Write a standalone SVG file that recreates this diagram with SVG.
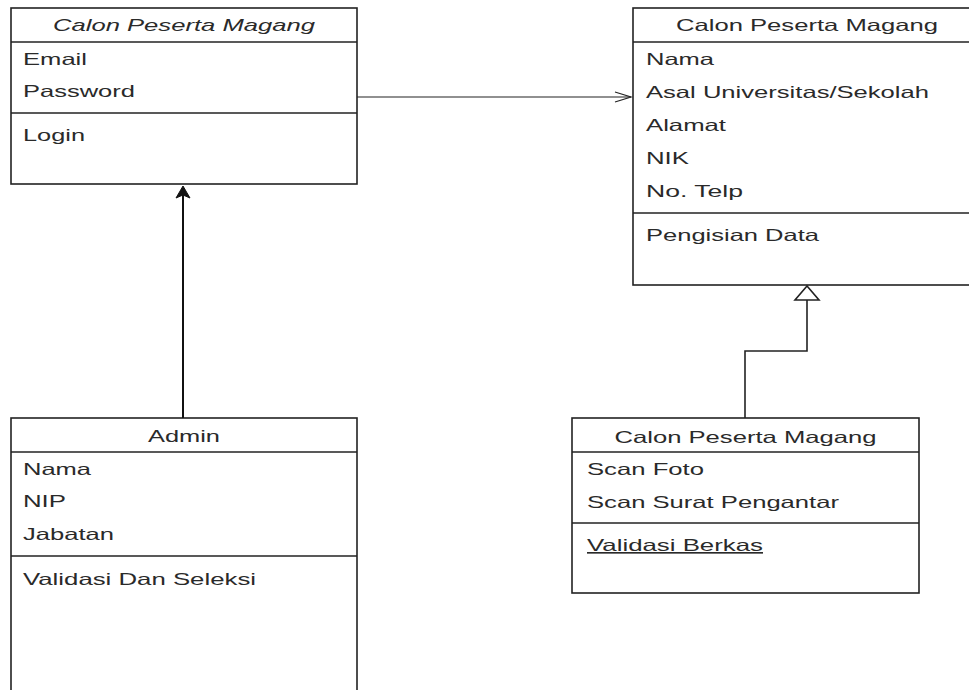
<svg xmlns="http://www.w3.org/2000/svg" width="969" height="690" viewBox="0 0 969 690">
<style>
.box{fill:#fff;stroke:#222;stroke-width:1.6}
.sep{stroke:#222;stroke-width:1.6}
text{font-family:"Liberation Sans",Arial,sans-serif;font-size:16.5px;fill:#2a2a2a}
.c{text-anchor:middle}
.edge{fill:none;stroke:#222;stroke-width:1.6}
</style>
<rect width="969" height="690" fill="#fff"/>
<g id="login">
<rect class="box" x="11" y="8" width="346" height="176"/>
<line class="sep" x1="11" y1="42" x2="357" y2="42"/>
<line class="sep" x1="11" y1="113" x2="357" y2="113"/>
<text class="c" x="184" y="31" font-style="italic" textLength="262" lengthAdjust="spacingAndGlyphs">Calon Peserta Magang</text>
<text x="23" y="65" textLength="64" lengthAdjust="spacingAndGlyphs">Email</text>
<text x="23" y="97" textLength="112" lengthAdjust="spacingAndGlyphs">Password</text>
<text x="23" y="141" textLength="62" lengthAdjust="spacingAndGlyphs">Login</text>
</g>
<g id="data">
<rect class="box" x="633" y="8" width="348" height="277"/>
<line class="sep" x1="633" y1="42" x2="981" y2="42"/>
<line class="sep" x1="633" y1="213" x2="981" y2="213"/>
<text class="c" x="807" y="31" textLength="262" lengthAdjust="spacingAndGlyphs">Calon Peserta Magang</text>
<text x="646" y="65" textLength="68" lengthAdjust="spacingAndGlyphs">Nama</text>
<text x="646" y="98" textLength="283" lengthAdjust="spacingAndGlyphs">Asal Universitas/Sekolah</text>
<text x="646" y="131" textLength="80" lengthAdjust="spacingAndGlyphs">Alamat</text>
<text x="646" y="164" textLength="43" lengthAdjust="spacingAndGlyphs">NIK</text>
<text x="646" y="197" textLength="97" lengthAdjust="spacingAndGlyphs">No. Telp</text>
<text x="646" y="241" textLength="173" lengthAdjust="spacingAndGlyphs">Pengisian Data</text>
</g>
<g id="admin">
<rect class="box" x="11" y="418" width="346" height="290"/>
<line class="sep" x1="11" y1="452" x2="357" y2="452"/>
<line class="sep" x1="11" y1="556" x2="357" y2="556"/>
<text class="c" x="184" y="442" textLength="72" lengthAdjust="spacingAndGlyphs">Admin</text>
<text x="23" y="475" textLength="68" lengthAdjust="spacingAndGlyphs">Nama</text>
<text x="23" y="507" textLength="43" lengthAdjust="spacingAndGlyphs">NIP</text>
<text x="23" y="540" textLength="91" lengthAdjust="spacingAndGlyphs">Jabatan</text>
<text x="23" y="585" textLength="233" lengthAdjust="spacingAndGlyphs">Validasi Dan Seleksi</text>
</g>
<g id="berkas">
<rect class="box" x="572" y="418" width="347" height="175"/>
<line class="sep" x1="572" y1="452" x2="919" y2="452"/>
<line class="sep" x1="572" y1="523" x2="919" y2="523"/>
<text class="c" x="745.5" y="443" textLength="262" lengthAdjust="spacingAndGlyphs">Calon Peserta Magang</text>
<text x="587" y="475" textLength="117" lengthAdjust="spacingAndGlyphs">Scan Foto</text>
<text x="587" y="508" textLength="252" lengthAdjust="spacingAndGlyphs">Scan Surat Pengantar</text>
<text x="587" y="551" textLength="176" lengthAdjust="spacingAndGlyphs" text-decoration="underline">Validasi Berkas</text>
</g>
<g id="connectors">
<line x1="357" y1="97" x2="631" y2="97" stroke="#222" stroke-width="1.2"/>
<polyline points="615,92 631,97 615,102" fill="none" stroke="#222" stroke-width="1.2"/>
<line x1="183" y1="418" x2="183" y2="194" stroke="#111" stroke-width="2"/>
<path d="M183,186 L176,198 L183,195 L190,198 Z" fill="#111" stroke="#111" stroke-width="1"/>
<path class="edge" d="M745,418 V351 H807 V300"/>
<path d="M807,286 L795,300 L819,300 Z" fill="#fff" stroke="#222" stroke-width="1.6"/>
</g>
</svg>
